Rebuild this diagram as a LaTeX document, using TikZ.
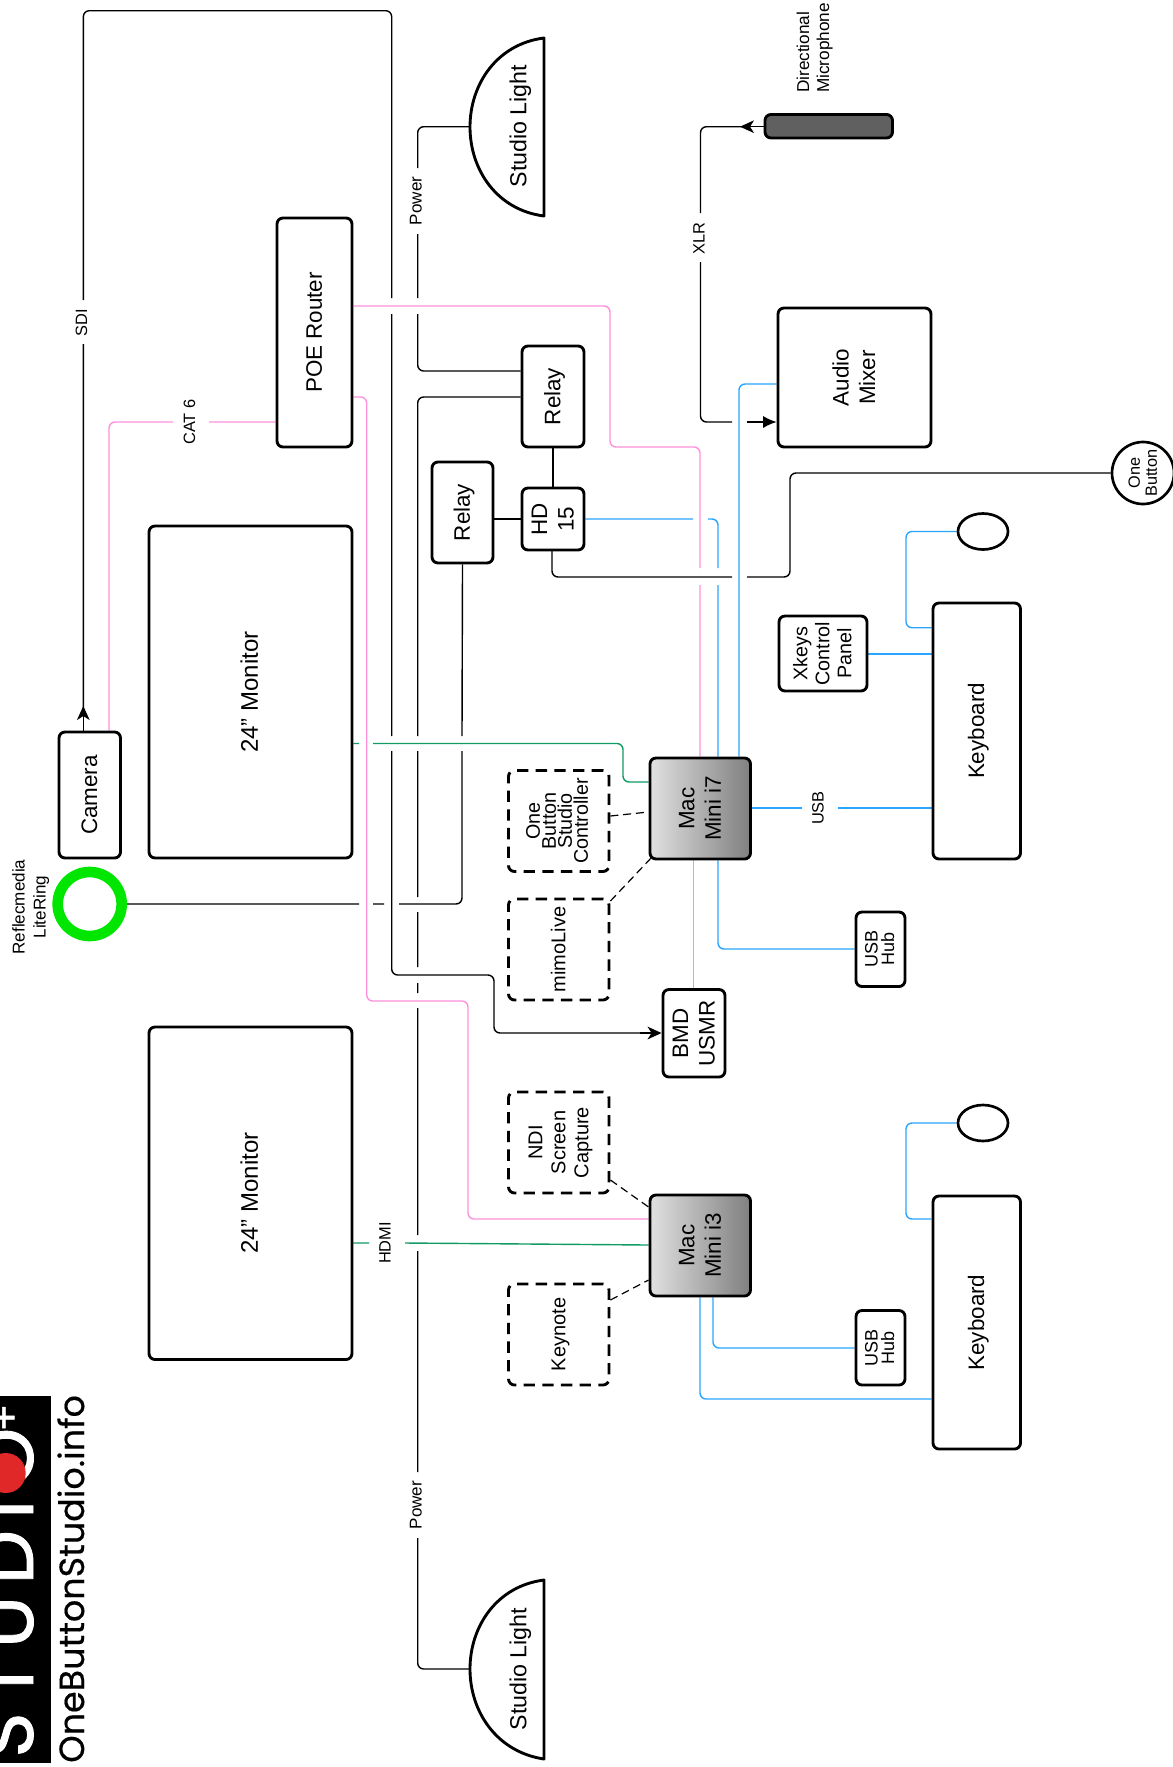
\documentclass[tikz,border=0pt]{standalone}
\usepackage{fontspec}
\setmainfont{Liberation Sans}
\newfontfamily\logofont[FakeBold=1.2]{Poppins}
\newfontfamily\urlfont[FakeBold=0.4]{Poppins}
\usetikzlibrary{shapes.geometric,arrows.meta,backgrounds}
\definecolor{pinkl}{RGB}{255,145,220}
\definecolor{bluel}{RGB}{42,165,255}
\definecolor{greenl}{RGB}{18,155,100}
\definecolor{grayl}{RGB}{185,185,185}
\definecolor{mic}{RGB}{96,96,96}
\definecolor{ring}{RGB}{0,230,0}
\definecolor{logored}{RGB}{225,40,40}
\newcommand\rtext[1]{\hspace*{3pt}\rotatebox{90}{\begin{tabular}{@{}c@{}}#1\end{tabular}}}
\newcommand\rtextl[1]{\hspace*{3pt}\rotatebox{90}{\begin{tabular}{@{}l@{}}#1\end{tabular}}}
\newcommand\bx[7]{%
  \pgfmathsetmacro\bw{(#5-#3)*0.75}\pgfmathsetmacro\bh{(#6-#4)*0.75}%
  \node[#1,minimum width=\bw pt,minimum height=\bh pt] (#2) at ({(#3+#5)/2},{(#4+#6)/2}) {#7};}
\tikzset{
  box/.style={draw=black,fill=white,line width=2.15pt,rounded corners=4.5pt,inner sep=0pt,align=center},
  dbox/.style={box,dash pattern=on 8.5pt off 5.5pt},
  mac/.style={box,left color=black!12,right color=black!50},
  conn/.style={line width=1.05pt,rounded corners=4.5pt},
  cblack/.style={conn,draw=black},
  cpink/.style={conn,draw=pinkl},
  cblue/.style={conn,draw=bluel},
  cgreen/.style={conn,draw=greenl},
  cgray/.style={conn,draw=grayl},
  dconn/.style={line width=0.9pt,draw=black,dash pattern=on 6pt off 3.6pt},
  big/.style={font=\fontsize{16.8}{20}\selectfont},
  mon/.style={font=\fontsize{18}{20}\selectfont},
  mid/.style={font=\fontsize{15}{17.2}\selectfont},
  tight/.style={font=\fontsize{14.8}{12}\selectfont},
  hub/.style={font=\fontsize{13.5}{12.4}\selectfont},
  lab/.style={font=\fontsize{12.3}{14}\selectfont,inner sep=0pt},
  powlab/.style={font=\fontsize{12.8}{14}\selectfont,inner sep=0pt},
  barb/.style={-{Stealth[length=10.5pt,width=9.5pt,inset=3pt]}},
  solid tip/.style={-{Latex[length=10pt,width=9pt]}}
}
\begin{document}
\begin{tikzpicture}[x=0.75pt,y=-0.75pt]
\useasboundingbox (0,0) rectangle (1172,1767);
% logo
\fill[black] (0,1396) rectangle (51,1763);
\begin{scope}
\clip (0,1396) rectangle (51,1763);
\node[anchor=base west,rotate=90,inner sep=0pt,text=white,font=\logofont\fontsize{58}{58}\selectfont] (logo) at (33,1758) {\addfontfeature{LetterSpace=14.5}STUDIO\kern-3pt\raisebox{10.5pt}{\fontsize{31}{31}\selectfont +}};
\fill[logored] (5.7,1473) circle[radius=20];
\end{scope}
\node[anchor=base west,rotate=90,inner sep=0pt,font=\urlfont\fontsize{26.2}{27}\selectfont] (url) at (84,1763) {OneButtonStudio.info};
% boxes
\bx{box,big}{cam}{59}{732}{120.5}{858}{\rtext{Camera}}
\bx{box,mon}{monA}{149}{526}{352}{858}{\rtext{24” Monitor}}
\bx{box,mon}{monB}{149}{1027}{352}{1359.5}{\rtext{24” Monitor}}
\bx{box,big}{poe}{277}{218}{352}{447}{\rtext{POE Router}}
\bx{box,big}{relA}{522}{346}{584}{447}{\rtext{Relay}}
\bx{box,big}{relB}{432}{462}{493}{563}{\rtext{Relay}}
\bx{box,big}{hd}{522}{488}{584}{550}{\rtext{HD\\15}}
\bx{box,big}{mixer}{778}{308}{931}{447}{\rtext{Audio\\Mixer}}
\bx{box,draw=black,fill=mic}{micr}{765}{114.5}{892.5}{138}{}
\bx{box,mid,font=\fontsize{14.8}{16.5}\selectfont}{xk}{779}{616}{867}{691}{\rtext{Xkeys\\Control\\Panel}}
\bx{box,big}{kbA}{933}{603}{1020.5}{859}{\rtext{Keyboard}}
\bx{box,big}{kbB}{933}{1196}{1020.5}{1449}{\rtext{Keyboard}}
\bx{mac,big}{macA}{650}{758}{750.5}{859}{\rtext{Mac\\Mini i7}}
\bx{mac,big}{macB}{650}{1195}{750.5}{1296}{\rtext{Mac\\Mini i3}}
\bx{dbox,tight}{obs}{508.5}{770.5}{609}{871.5}{\rtext{\smash{One}\\\smash{Button}\\\smash{Studio}\\\smash{Controller}}}
\bx{dbox,mid}{mimo}{508.5}{899}{609}{1000}{\rtext{mimoLive}}
\bx{dbox,mid,font=\fontsize{15}{17.2}\selectfont}{ndi}{508.5}{1092}{609}{1193}{\rtext{NDI\\Screen\\Capture}}
\bx{dbox,mid}{key}{508.5}{1284}{609}{1385}{\rtext{Keynote}}
\bx{box,big}{bmd}{663}{989.5}{725}{1077}{\rtext{BMD\\USMR}}
\bx{box,hub}{hubA}{856}{912}{905}{986.5}{\rtext{\smash{USB}\\\smash{Hub}}}
\bx{box,hub}{hubB}{856}{1310.5}{905}{1385}{\rtext{\smash{USB}\\\smash{Hub}}}
\node[draw=black,fill=white,ellipse,line width=2pt,minimum width=37.5pt,minimum height=27pt,inner sep=0pt] (elA) at (983,531.5) {};
\node[draw=black,fill=white,ellipse,line width=2pt,minimum width=37.5pt,minimum height=27pt,inner sep=0pt] (elB) at (983,1123) {};
\node[draw=black,fill=white,circle,line width=2pt,minimum size=46.5pt,inner sep=0pt,font=\fontsize{12.2}{12.8}\selectfont] (btn) at (1143,473) {\rtext{One\\Button}};
\node[draw=ring,circle,line width=8pt,minimum size=48pt,inner sep=0pt] (lite) at (89.7,904) {};
\node[font=\fontsize{12.8}{15.8}\selectfont,inner sep=0pt] (litetxt) at (29,907) {\rtext{Reflecmedia\\LiteRing}};
\node[font=\fontsize{12.9}{15}\selectfont,inner sep=0pt] (mictxt) at (813,48) {\rtextl{Directional\\Microphone}};
% studio lights
\draw[line width=2.15pt,fill=white,line join=round] (544,38) .. controls (497,44) and (470,84) .. (470,127) .. controls (470,170) and (497,210) .. (544,216) -- cycle;
\coordinate (lightAw) at (470,126.7);
\node[inner sep=0pt,font=\fontsize{17.4}{20}\selectfont] (lightA) at (519,126) {\rtext{Studio Light}};
\draw[line width=2.15pt,fill=white,line join=round] (544,1580) .. controls (497,1586) and (470,1626) .. (470,1669) .. controls (470,1712) and (497,1752) .. (544,1759) -- cycle;
\coordinate (lightBw) at (470,1669);
\node[inner sep=0pt,font=\fontsize{17.4}{20}\selectfont] (lightB) at (519,1669) {\rtext{Studio Light}};
% connector labels
\node[lab] (tSDI) at (81.5,323) {\rtext{SDI}};
\node[lab] (tCAT) at (189.5,422) {\rtext{CAT 6}};
\node[powlab] (tPowA) at (416,201) {\rtext{Power}};
\node[powlab] (tPowB) at (416,1505) {\rtext{Power}};
\node[lab] (tHDMI) at (385,1243) {\rtext{HDMI}};
\node[lab] (tXLR) at (699,238.5) {\rtext{XLR}};
\node[lab] (tUSB) at (818,808) {\rtext{USB}};
\begin{pgfonlayer}{background}
% black connectors
\draw[cblack] (cam.north -| 83.3,0) -- (83.3,712);
\draw[barb,line width=1.05pt] (83.3,722) -- (83.3,706);
\draw[cblack] (83.3,710) -- (83.3,344) (83.3,300) -- (83.3,10.7) -- (391.7,10.7) -- (391.7,298) (391.7,314) -- (391.7,736) (391.7,751) -- (391.7,975) -- (494,975) -- (494,1033) -- (650,1033);
\draw[barb,line width=1.05pt] (640,1033) -- (bmd.west |- 0,1033);
\draw[cblack] (lightAw) -- (417.7,126.7) -- (417.7,168) (417.7,234) -- (417.7,298) (417.7,314) -- (417.7,371) -- (relA.west |- 0,371);
\draw[cblack] (relA.west |- 0,397) -- (417.7,397) -- (417.7,736) (417.7,751) -- (417.7,897) (417.7,912) -- (417.7,967) (417.7,983) -- (417.7,993) (417.7,1008) -- (417.7,1235) (417.7,1251) -- (417.7,1472) (417.7,1538) -- (417.7,1669) -- (lightBw);
\draw[cblack] (lite.east) -- (359,904) (373,904) -- (384,904) (399,904) -- (462,904) -- (462,751) (462,736) -- (relB.south);
\draw[cblack] (relA.south) -- (hd.north);
\draw[cblack] (relB.east |- 0,519) -- (hd.west |- 0,519);
\draw[cblack] (552,550) -- (552,577) -- (732,577) (747,577) -- (790,577) -- (790,473) -- (btn.west);
\draw[cblack] (micr.west |- 0,126.7) -- (745,126.7);
\draw[barb,line width=1.05pt] (755,126.7) -- (740,126.7);
\draw[cblack] (745,126.7) -- (700.5,126.7) -- (700.5,213) (700.5,262) -- (700.5,422) -- (732,422);
\draw[solid tip,line width=1.05pt] (747,422) -- (mixer.west |- 0,422);
% pink
\draw[cpink] (cam.north -| 109,0) -- (109,422) -- (173,422) (209,422) -- (poe.west |- 0,422);
\draw[cpink] (poe.east |- 0,306) -- (610,306) -- (610,447) -- (700,447) -- (700,568) (700,585) -- (macA.north -| 700,0);
\draw[cpink] (poe.east |- 0,397) -- (366.7,397) -- (366.7,1001) -- (468,1001) -- (468,1219) -- (macB.west |- 0,1219);
% blue
\draw[cblue] (hd.east |- 0,519) -- (693,519) (708,519) -- (718,519) -- (718,568) (718,585) -- (macA.north -| 718,0);
\draw[cblue] (macA.north -| 739,0) -- (739,384) -- (mixer.west |- 0,384);
\draw[cblue] (macA.east |- 0,808) -- (802,808) (838,808) -- (kbA.west |- 0,808);
\draw[cblue] (macA.south -| 718,0) -- (718,949) -- (hubA.west |- 0,949);
\draw[cblue] (xk.east |- 0,654) -- (kbA.west |- 0,654);
\draw[cblue] (kbA.west |- 0,627.7) -- (906,627.7) -- (906,531.5) -- (elA.west);
\draw[cblue] (macB.south -| 713,0) -- (713,1348) -- (hubB.west |- 0,1348);
\draw[cblue] (macB.south -| 700,0) -- (700,1399) -- (kbB.west |- 0,1399);
\draw[cblue] (kbB.west |- 0,1219) -- (906,1219) -- (906,1123) -- (elB.west);
% green
\draw[cgreen] (monA.east |- 0,743.5) -- (359,743.5) (373,743.5) -- (623,743.5) -- (623,782) -- (macA.west |- 0,782);
\draw[cgreen] (monB.east |- 0,1243) -- (369,1243) (405,1243) -- (macB.west |- 0,1245);
% gray
\draw[cgray] (macA.south -| 693.7,0) -- (bmd.north -| 693.7,0);
% dashed
\draw[dconn] (obs.east |- 0,816) -- (macA.west |- 0,812);
\draw[dconn] (mimo.east |- 0,901) -- (652,857);
\draw[dconn] (ndi.east |- 0,1180) -- (macB.west |- 0,1207);
\draw[dconn] (key.east |- 0,1300) -- (macB.west |- 0,1280);
\end{pgfonlayer}
\end{tikzpicture}
\end{document}
